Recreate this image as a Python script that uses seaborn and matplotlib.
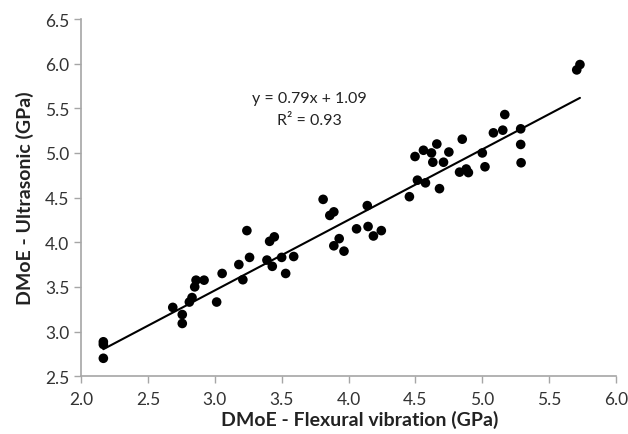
import numpy as np
import pandas as pd
import matplotlib
matplotlib.use("Agg")
import matplotlib.pyplot as plt
import seaborn as sns

# -- data ---------------------------------------------------------------------
flexural = [2.167, 2.167, 2.167, 2.686, 2.757, 2.757, 2.81, 2.83, 2.85, 2.86,
            2.92, 3.014, 3.055, 3.18, 3.21, 3.24, 3.26, 3.39, 3.41, 3.43,
            3.445, 3.50, 3.53, 3.59, 3.81, 3.86, 3.89, 3.89, 3.93, 3.966,
            4.06, 4.14, 4.146, 4.186, 4.245, 4.455, 4.515, 4.575, 4.68, 4.497,
            4.56, 4.62, 4.66, 4.63, 4.71, 4.75, 4.83, 4.88, 4.896, 4.85,
            5.00, 5.02, 5.083, 5.153, 5.168, 5.287, 5.287, 5.29, 5.706, 5.73]
ultrasonic = [2.885, 2.855, 2.70, 3.27, 3.19, 3.09, 3.33, 3.38, 3.50, 3.575,
              3.575, 3.33, 3.65, 3.75, 3.58, 4.13, 3.83, 3.80, 4.01, 3.73,
              4.06, 3.83, 3.65, 3.84, 4.48, 4.30, 4.34, 3.96, 4.04, 3.90,
              4.15, 4.41, 4.176, 4.07, 4.13, 4.51, 4.695, 4.665, 4.60, 4.96,
              5.03, 5.00, 5.10, 4.896, 4.896, 5.01, 4.785, 4.82, 4.78, 5.154,
              5.00, 4.845, 5.225, 5.255, 5.43, 5.27, 5.095, 4.89, 5.93, 5.99]
slope, intercept = 0.79, 1.09
x_ticks = [2.0, 2.5, 3.0, 3.5, 4.0, 4.5, 5.0, 5.5, 6.0]
y_ticks = [2.5, 3.0, 3.5, 4.0, 4.5, 5.0, 5.5, 6.0, 6.5]

df = pd.DataFrame({"flex": flexural, "ultra": ultrasonic})

# -- style --------------------------------------------------------------------
sns.set_theme(style="ticks")
plt.rcParams["font.family"] = ["Lato", "DejaVu Sans"]
AXIS_GREY = "#a6a6a6"

fig, ax = plt.subplots(figsize=(6.28, 4.35), dpi=100)
fig.subplots_adjust(left=0.129, right=0.981, bottom=0.133, top=0.954)

sns.scatterplot(data=df, x="flex", y="ultra", color="black", s=48,
                edgecolor="none", ax=ax, zorder=3)

xl = np.array([min(flexural), max(flexural)])
sns.lineplot(x=xl, y=slope * xl + intercept, color="black", linewidth=1.5,
             ax=ax, zorder=2)

ax.text(3.71, 5.61, f"y = {slope:.2f}x + {intercept:.2f}", ha="center",
        va="center", fontsize=11.5, color="#222222")
ax.text(3.71, 5.37, "R² = 0.93", ha="center", va="center", fontsize=11.5,
        color="#222222")

ax.set_xlim(2.0, 6.0)
ax.set_ylim(2.5, 6.5)
ax.set_xticks(x_ticks)
ax.set_yticks(y_ticks)
ax.set_xticklabels([f"{t:.1f}" for t in x_ticks])
ax.set_yticklabels([f"{t:.1f}" for t in y_ticks])
ax.tick_params(axis="both", labelsize=12.5, colors=AXIS_GREY, labelcolor="#333333",
               length=5, width=1)
ax.tick_params(axis="x", pad=6)
for side in ("top", "right"):
    ax.spines[side].set_visible(False)
for side in ("left", "bottom"):
    ax.spines[side].set_color(AXIS_GREY)
    ax.spines[side].set_linewidth(1.2)

ax.set_xlabel("DMoE - Flexural vibration (GPa)", fontsize=14,
              fontweight="bold", color="#222222")
ax.xaxis.set_label_coords(0.52, -0.095)
ax.set_ylabel("DMoE - Ultrasonic (GPa)", fontsize=14, fontweight="bold",
              color="#222222", labelpad=8)

fig.savefig("out.png", dpi=100, facecolor="white")
